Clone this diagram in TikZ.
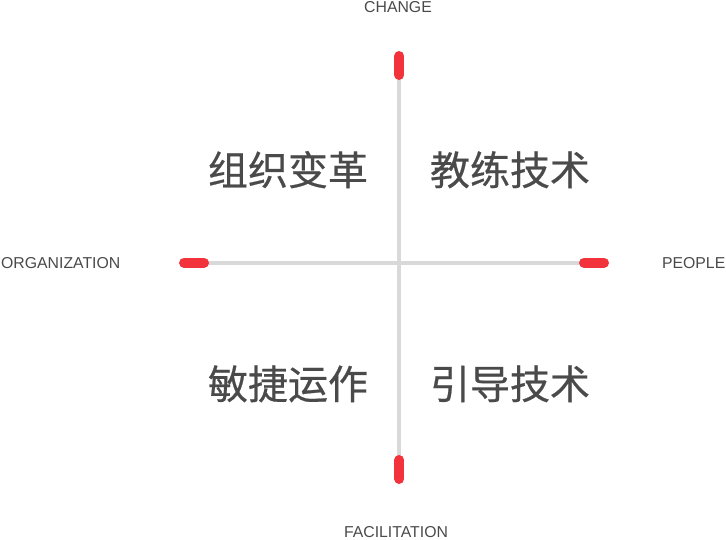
\documentclass[tikz,border=0pt]{standalone}
\usepackage{fontspec}
\setmainfont{Liberation Sans}
\newfontfamily\cjk[FakeBold=0.5]{Noto Sans CJK SC}
\definecolor{axisgray}{HTML}{D9D9D9}
\definecolor{capred}{HTML}{F2333B}
\definecolor{txtgray}{HTML}{4A4A4A}
\begin{document}
\begin{tikzpicture}[x=1pt,y=-1pt,
  axisline/.style={draw=axisgray,line width=4pt},
  capline/.style={draw=capred,line width=10pt,line cap=round},
  axislabel/.style={font=\fontsize{15.8}{16}\selectfont,text=txtgray,inner sep=0pt},
  quadlabel/.style={font=\cjk\fontsize{40}{44}\selectfont,text=txtgray,inner sep=0pt,anchor=base}]
\useasboundingbox (0,0) rectangle (726,540);
\coordinate (top) at (399.3,56);
\coordinate (bot) at (399.3,479);
\coordinate (left) at (184,262.7);
\coordinate (right) at (604,262.7);
\coordinate (topin) at (399.3,75);
\coordinate (botin) at (399.3,460);
\coordinate (leftin) at (204,262.7);
\coordinate (rightin) at (584,262.7);
\draw[axisline] (top) -- (bot);
\draw[axisline] (left) -- (right);
\draw[capline] (top) -- (topin);
\draw[capline] (botin) -- (bot);
\draw[capline] (left) -- (leftin);
\draw[capline] (rightin) -- (right);
\node[axislabel,anchor=base] (change) at (398,12.5) {CHANGE};
\node[axislabel,anchor=base] (facil) at (396,537.5) {FACILITATION};
\node[axislabel,anchor=base west] (org) at (1,269) {ORGANIZATION};
\node[axislabel,anchor=base east] (people) at (725.5,268.5) {PEOPLE};
\node[quadlabel] (q1) at (288,185) {组织变革};
\node[quadlabel] (q2) at (510,185) {教练技术};
\node[quadlabel] (q3) at (288,399) {敏捷运作};
\node[quadlabel] (q4) at (510,399) {引导技术};
\end{tikzpicture}
\end{document}
